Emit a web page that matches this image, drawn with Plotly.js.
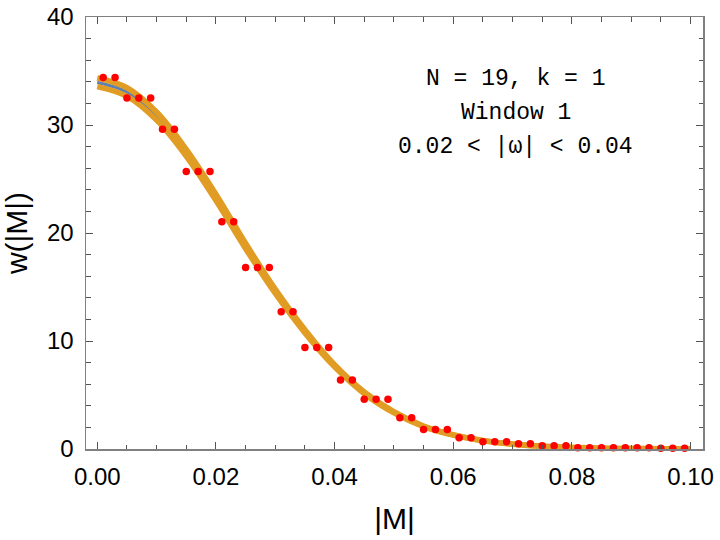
<!DOCTYPE html>
<html>
<head>
<meta charset="utf-8">
<script src="https://cdn.plot.ly/plotly-3.0.1.min.js"></script>
<style>
  html, body { margin: 0; padding: 0; background: #fff; }
  #chart { width: 720px; height: 540px; }
</style>
</head>
<body>
<div id="chart"></div>
<script>
// histogram points
var histX = [0.001, 0.003, 0.005, 0.007, 0.009, 0.011, 0.013, 0.015, 0.017, 0.019,
             0.021, 0.023, 0.025, 0.027, 0.029, 0.031, 0.033, 0.035, 0.037, 0.039,
             0.041, 0.043, 0.045, 0.047, 0.049, 0.051, 0.053, 0.055, 0.057, 0.059,
             0.061, 0.063, 0.065, 0.067, 0.069, 0.071, 0.073, 0.075, 0.077, 0.079,
             0.081, 0.083, 0.085, 0.087, 0.089, 0.091, 0.093, 0.095, 0.097, 0.099];
var histY = [34.4, 34.4, 32.5, 32.5, 32.5, 29.6, 29.6, 25.7, 25.7, 25.7,
             21.05, 21.05, 16.8, 16.8, 16.8, 12.7, 12.7, 9.4, 9.4, 9.4,
             6.4, 6.4, 4.6, 4.6, 4.6, 2.9, 2.9, 1.8, 1.8, 1.8,
             1.05, 1.05, 0.68, 0.68, 0.68, 0.49, 0.49, 0.31, 0.31, 0.31,
             0.12, 0.12, 0.12, 0.12, 0.12, 0.12, 0.12, 0.06, 0.06, 0.06];

// fitted curves
var curveX = [0, 0.005, 0.01, 0.015, 0.02, 0.025, 0.03, 0.035, 0.04, 0.045, 0.05,
              0.055, 0.06, 0.065, 0.07, 0.075, 0.08, 0.085, 0.09, 0.095, 0.1];
var fitBlue = [33.95, 33.05, 30.8, 27.4, 23.3, 18.8, 14.6, 10.9, 7.7, 5.2, 3.4,
               2.1, 1.3, 0.78, 0.45, 0.26, 0.15, 0.08, 0.04, 0.02, 0.01];
var fitUpper = [34.35, 33.45, 31.2, 27.75, 23.6, 19.05, 14.8, 11.05, 7.8, 5.28, 3.45,
                2.13, 1.32, 0.79, 0.46, 0.26, 0.15, 0.08, 0.04, 0.02, 0.01];
var fitLower = [33.55, 32.65, 30.45, 27.1, 23.0, 18.55, 14.4, 10.75, 7.6, 5.12, 3.35,
                2.07, 1.28, 0.77, 0.44, 0.26, 0.15, 0.08, 0.04, 0.02, 0.01];

var labelLines = ['N = 19, k = 1', 'Window 1', '0.02 < |ω| < 0.04'];

var blue = '#5e81b5';
var orange = '#e19c24';

function curve(y, color, width) {
  return {
    x: curveX, y: y, type: 'scatter', mode: 'lines',
    line: { color: color, width: width, shape: 'spline', smoothing: 1 },
    hoverinfo: 'skip'
  };
}

var traces = [
  curve(fitBlue, blue, 3.5),
  curve(fitUpper, orange, 5.5),
  curve(fitLower, orange, 5.5),
  {
    x: histX, y: histY, type: 'scatter', mode: 'markers',
    marker: { color: '#ff0000', size: 7.5 },
    cliponaxis: false
  }
];

var tickFont = { family: 'Liberation Sans, Arial, sans-serif', size: 24, color: '#000' };
var titleFont = { family: 'Liberation Sans, Arial, sans-serif', size: 30, color: '#000' };

var axisBase = {
  showgrid: false, zeroline: false,
  showline: true, linecolor: '#808080', linewidth: 1.5, mirror: 'ticks',
  ticks: 'inside', ticklen: 7, tickwidth: 1, tickcolor: '#555',
  tickfont: tickFont
};

var annotY = [34.23, 31.14, 27.99];
var annotations = labelLines.map(function(t, i) {
  return {
    x: 0.0705, y: annotY[i], xref: 'x', yref: 'y',
    text: t, showarrow: false,
    font: { family: 'Liberation Mono, DejaVu Sans Mono, monospace', size: 23, color: '#000' }
  };
});

var layout = {
  width: 720, height: 540,
  margin: { l: 86, r: 17, t: 17, b: 91 },
  paper_bgcolor: '#fff', plot_bgcolor: '#fff',
  showlegend: false,
  xaxis: Object.assign({}, axisBase, {
    range: [-0.0019, 0.1021],
    tick0: 0, dtick: 0.02, tickformat: '.2f',
    ticklabelstandoff: 6,
    minor: { ticks: 'inside', ticklen: 4.5, tick0: 0, dtick: 0.005, tickcolor: '#555', showgrid: false },
    title: { text: '|M|', font: titleFont, standoff: 18 }
  }),
  yaxis: Object.assign({}, axisBase, {
    range: [0, 40],
    tick0: 0, dtick: 10,
    ticklabelstandoff: 6,
    minor: { ticks: 'inside', ticklen: 4.5, tick0: 0, dtick: 2, tickcolor: '#555', showgrid: false },
    title: { text: 'w(|M|)', font: titleFont, standoff: 14 }
  }),
  annotations: annotations
};

Plotly.newPlot('chart', traces, layout, { displayModeBar: false, staticPlot: true });
</script>
</body>
</html>
